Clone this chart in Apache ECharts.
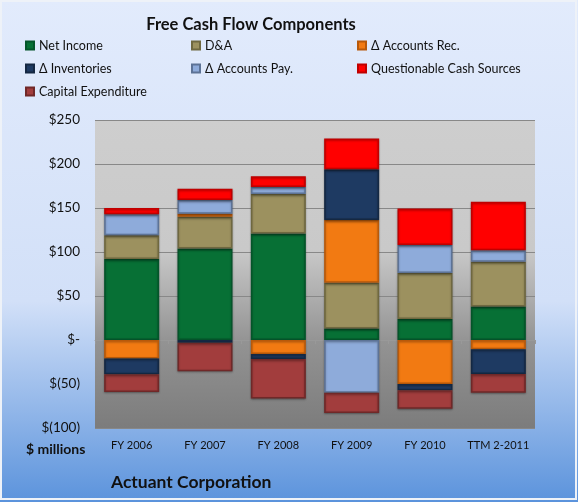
<!DOCTYPE html>
<html>
<head>
<meta charset="utf-8">
<script src="https://cdn.jsdelivr.net/npm/echarts@6/dist/echarts.min.js"></script>
<style>
  html, body { margin: 0; padding: 0; }
  #chart { width: 578px; height: 502px; }
</style>
</head>
<body>
<div id="chart"></div>
<script>
// categories and values ($ millions)
const periods = ['FY 2006', 'FY 2007', 'FY 2008', 'FY 2009', 'FY 2010', 'TTM 2-2011']
const netIncome = [92, 104, 121, 13, 24, 38]
const depAmort = [27, 36, 45, 52, 52, 51]
const accountsRec = [-21, 3.5, -16, 71.5, -50, -10.5]
const inventories = [-18, -3, -5.5, 57.5, -7, -28]
const accountsPay = [24, 15.5, 8, -60, 32, 13]
const questionable = [7, 13, 12, 35, 41.5, 55]
const capex = [-20, -32.5, -45, -23, -21, -21.5]

const chart = echarts.init(document.getElementById('chart'))

const font = 'Lato, "Noto Sans", sans-serif'

// helper so every series gets the same look
function bar (name, data, color, border) {
  return {
    name: name,
    type: 'bar',
    stack: 'fcf',
    data: data,
    barWidth: 55,
    itemStyle: {
      color: color,
      borderColor: border,
      borderWidth: 1.5,
      shadowColor: 'rgba(0,0,0,0.3)',
      shadowBlur: 2,
      shadowOffsetY: 1
    }
  }
}

const legendText = { color: '#111', fontSize: 12.5, fontFamily: font }

const option = {
  backgroundColor: new echarts.graphic.LinearGradient(0, 0, 0, 1, [
    { offset: 0, color: '#e2ebfc' },
    { offset: 0.6, color: '#d2e0f8' },
    { offset: 1, color: '#5b93dc' }
  ]),
  graphic: [
    {
      type: 'rect',
      shape: { x: 1, y: 1, width: 575, height: 498 },
      style: { fill: 'none', stroke: '#eef2f8', lineWidth: 2 },
      silent: true
    }
  ],
  title: [
    {
      text: 'Free Cash Flow Components',
      left: 246, top: 11, textAlign: 'center',
      textStyle: { fontSize: 16.5, fontWeight: 'bold', color: '#111', fontFamily: font }
    },
    {
      text: '$ millions',
      left: 21, top: 437,
      textStyle: { fontSize: 14, fontWeight: 'bold', color: '#111', fontFamily: font }
    },
    {
      text: 'Actuant Corporation',
      left: 106, top: 468,
      textStyle: { fontSize: 17.5, fontWeight: 'bold', color: '#111', fontFamily: font }
    }
  ],
  legend: [
    {
      orient: 'vertical', left: 20, top: 34, itemGap: 10,
      itemWidth: 8, itemHeight: 8, icon: 'rect',
      textStyle: legendText,
      data: ['Net Income', 'Δ Inventories', 'Capital Expenditure']
    },
    {
      orient: 'vertical', left: 186, top: 34, itemGap: 10,
      itemWidth: 8, itemHeight: 8, icon: 'rect',
      textStyle: legendText,
      data: ['D&A', 'Δ Accounts Pay.']
    },
    {
      orient: 'vertical', left: 352, top: 34, itemGap: 10,
      itemWidth: 8, itemHeight: 8, icon: 'rect',
      textStyle: legendText,
      data: ['Δ Accounts Rec.', 'Questionable Cash Sources']
    }
  ],
  grid: {
    left: 95, right: 43, top: 120, bottom: 74,
    show: true,
    borderWidth: 0,
    backgroundColor: new echarts.graphic.LinearGradient(0, 0, 0, 1, [
      { offset: 0, color: '#cecece' },
      { offset: 0.42, color: '#c9c9c9' },
      { offset: 0.72, color: '#939393' },
      { offset: 1, color: '#7c7c7c' }
    ])
  },
  xAxis: [
    {
      type: 'category',
      data: periods,
      axisLine: { show: false, onZero: false },
      axisTick: { show: false },
      axisLabel: { color: '#111', fontSize: 11, margin: 12, interval: 0, fontFamily: font }
    },
    {
      type: 'category',
      data: periods,
      axisLine: { onZero: true, lineStyle: { color: '#999', width: 1 } },
      axisTick: { show: true, inside: true, length: 4, interval: 0, lineStyle: { color: '#999' } },
      axisLabel: { show: false }
    }
  ],
  yAxis: {
    type: 'value',
    min: -100,
    max: 250,
    interval: 50,
    axisLine: { show: false },
    axisTick: { show: false },
    axisLabel: {
      color: '#111',
      fontSize: 13.5,
      margin: 15,
      fontFamily: font,
      formatter: function (v) {
        if (v === 0) return '$-'
        if (v < 0) return '$(' + (-v) + ')'
        return '$' + v
      }
    },
    splitLine: { lineStyle: { color: '#888', width: 1 } }
  },
  series: [
    bar('Net Income', netIncome, '#077035', '#04552a'),
    bar('D&A', depAmort, '#9c915f', '#6f6840'),
    bar('Δ Accounts Rec.', accountsRec, '#f27a12', '#b8590a'),
    bar('Δ Inventories', inventories, '#1e3a62', '#142843'),
    bar('Δ Accounts Pay.', accountsPay, '#8eabda', '#5d7396'),
    bar('Questionable Cash Sources', questionable, '#ff0000', '#c00000'),
    bar('Capital Expenditure', capex, '#a23d3d', '#702828')
  ]
}

chart.setOption(option)
window.addEventListener('resize', () => {
  chart.resize()
})
</script>
</body>
</html>
